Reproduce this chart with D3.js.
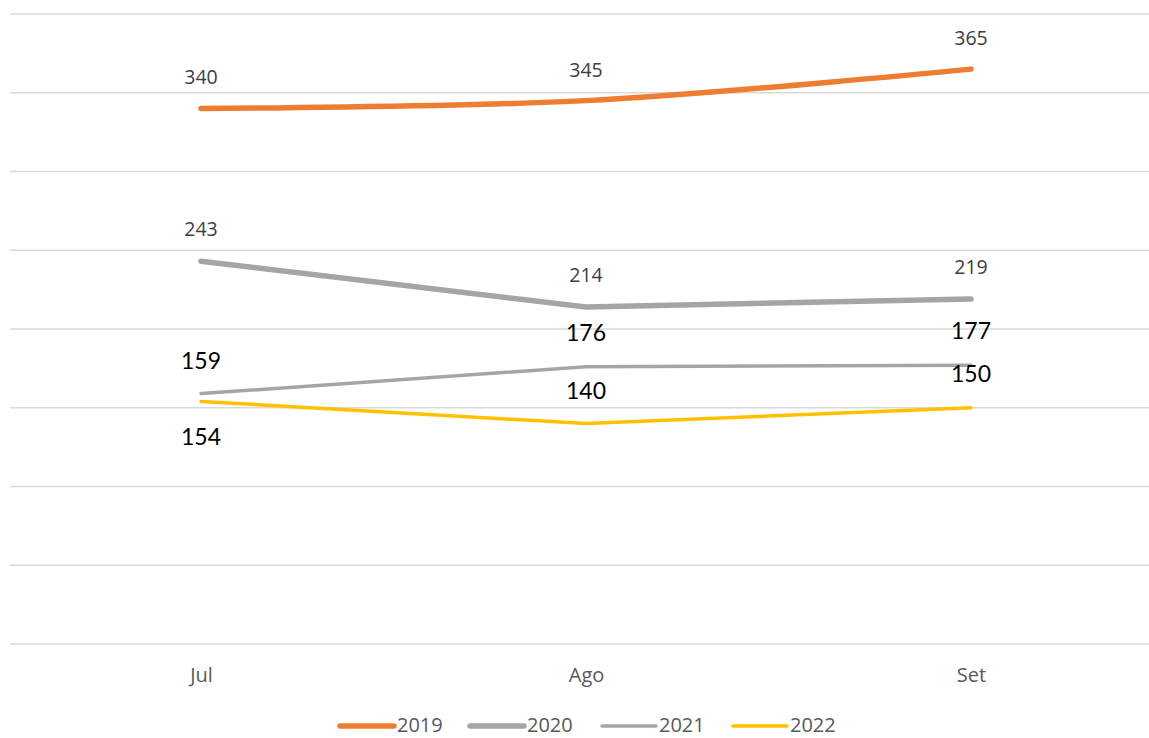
<!DOCTYPE html>
<html>
<head>
<meta charset="utf-8">
<script src="https://cdn.jsdelivr.net/npm/d3@7"></script>
<style>
  html, body { margin: 0; padding: 0; background: #fff; }
  svg { display: block; }
</style>
</head>
<body>
<div class="svg-container"></div>
<script>
const months = ['Jul', 'Ago', 'Set'];
const years = ['2019', '2020', '2021', '2022'];
const values2019 = [340, 345, 365];
const values2020 = [243, 214, 219];
const values2021 = [159, 176, 177];
const values2022 = [154, 140, 150];
const yTicks = [0, 50, 100, 150, 200, 250, 300, 350, 400];

const svgWidth = 1149;
const svgHeight = 738;
const svg = d3.select('.svg-container').append('svg')
    .attr('width', svgWidth)
    .attr('height', svgHeight);

const x = d3.scalePoint().domain(months).range([201, 971]);
const y = d3.scaleLinear().domain([0, 400]).range([644, 14]);

// gridlines
svg.append('g').selectAll('line')
    .data(yTicks)
    .join('line')
    .attr('x1', 10)
    .attr('x2', svgWidth)
    .attr('y1', d => y(d))
    .attr('y2', d => y(d))
    .attr('stroke', '#d9d9d9')
    .attr('stroke-width', 1.5);

// x axis labels
const xAxis = svg.append('g')
    .attr('transform', `translate(0, ${y(0)})`)
    .call(d3.axisBottom(x).tickSize(0).tickPadding(22));
xAxis.select('.domain').remove();
xAxis.selectAll('text')
    .attr('dy', null)
    .attr('y', 38)
    .attr('font-family', '"Open Sans", sans-serif')
    .attr('font-size', '20px')
    .attr('fill', '#595959');

const series = [
    {name: years[0], values: values2019, color: '#ed7d31', width: 5.5, curve: d3.curveCatmullRom,
        labelColor: '#404040', labelSize: '19.5px', labelFont: '"Open Sans", sans-serif', offsets: [-25, -24, -24]},
    {name: years[1], values: values2020, color: '#a5a5a5', width: 5.5, curve: d3.curveLinear,
        labelColor: '#404040', labelSize: '19.5px', labelFont: '"Open Sans", sans-serif', offsets: [-25, -25, -25]},
    {name: years[2], values: values2021, color: '#a5a5a5', width: 3.5, curve: d3.curveLinear,
        labelColor: '#000', labelSize: '23px', labelFont: 'Lato, sans-serif', offsets: [-25, -26, -26]},
    {name: years[3], values: values2022, color: '#ffc000', width: 3.5, curve: d3.curveLinear,
        labelColor: '#000', labelSize: '23px', labelFont: 'Lato, sans-serif', offsets: [44, -25, -26]}
];

const lineGroup = svg.append('g');
series.forEach(s => {
    const line = d3.line()
        .x((d, i) => x(months[i]))
        .y(d => y(d))
        .curve(s.curve);
    lineGroup.append('path')
        .datum(s.values)
        .attr('d', line)
        .attr('fill', 'none')
        .attr('stroke', s.color)
        .attr('stroke-width', s.width)
        .attr('stroke-linecap', 'round')
        .attr('stroke-linejoin', 'round');
});

// data labels
series.forEach(s => {
    svg.append('g').selectAll('text')
        .data(s.values)
        .join('text')
        .attr('x', (d, i) => x(months[i]))
        .attr('y', (d, i) => y(d) + s.offsets[i])
        .attr('text-anchor', 'middle')
        .attr('font-family', s.labelFont)
        .attr('font-size', s.labelSize)
        .attr('fill', s.labelColor)
        .text(d => d);
});

// legend
const legendX = [340, 470, 602, 733];
const legend = svg.append('g');
series.forEach((s, i) => {
    legend.append('line')
        .attr('x1', legendX[i])
        .attr('x2', legendX[i] + 54)
        .attr('y1', 726)
        .attr('y2', 726)
        .attr('stroke', s.color)
        .attr('stroke-width', s.width)
        .attr('stroke-linecap', 'round');
    legend.append('text')
        .attr('x', legendX[i] + 57)
        .attr('y', 732)
        .attr('font-family', '"Open Sans", sans-serif')
        .attr('font-size', '20px')
        .attr('fill', '#595959')
        .text(s.name);
});
</script>
</body>
</html>
